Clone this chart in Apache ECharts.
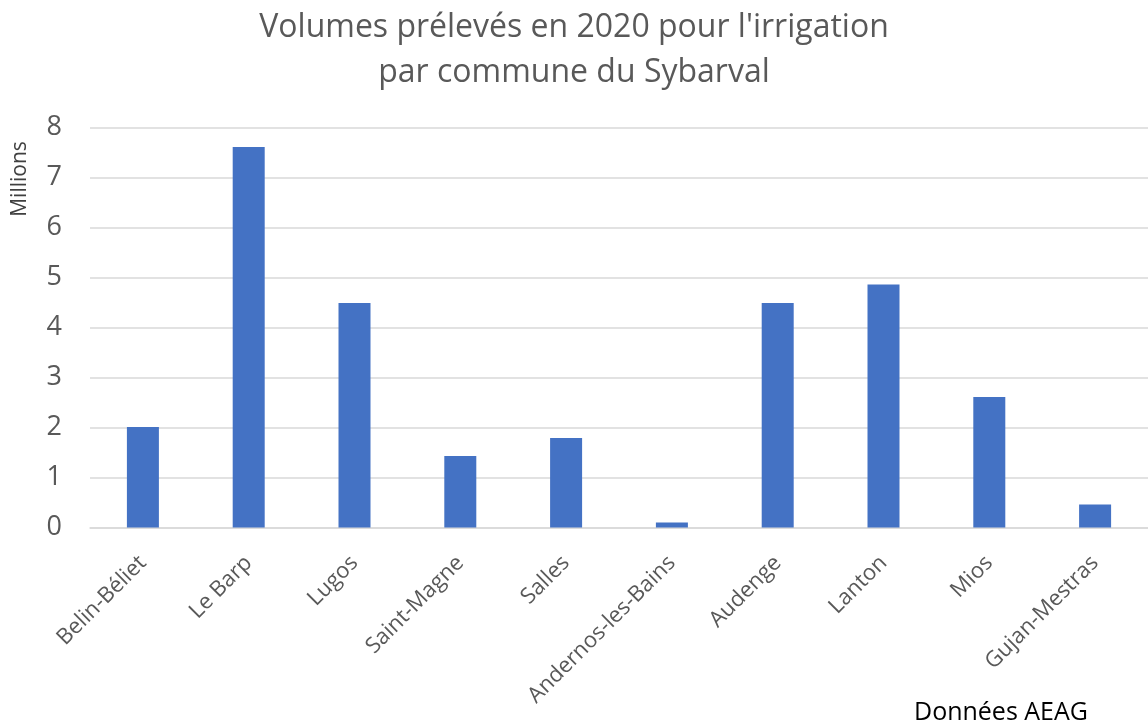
<!DOCTYPE html>
<html><head><meta charset="utf-8">
<script src="https://cdn.jsdelivr.net/npm/echarts@6/dist/echarts.min.js"></script>
<style>html,body{margin:0;padding:0;background:#fff}#c{width:1148px;height:727px}</style>
</head><body><div id="c"></div>
<script>
const titleLines = ["Volumes prélevés en 2020 pour l'irrigation", "par commune du Sybarval"];
const communes = ["Belin-Béliet","Le Barp","Lugos","Saint-Magne","Salles","Andernos-les-Bains","Audenge","Lanton","Mios","Gujan-Mestras"];
const volumesMillions = [2.01, 7.61, 4.49, 1.43, 1.79, 0.10, 4.49, 4.86, 2.61, 0.46];
const yTicks = [0,1,2,3,4,5,6,7,8];
const yAxisName = "Millions";
const sourceNote = "Données AEAG";

const chart = echarts.init(document.getElementById('c'));
chart.setOption({
  animation: false,
  title: {
    text: titleLines.join('\n'),
    left: 'center', top: 0,
    textStyle: {fontFamily: 'Open Sans', fontWeight: 'normal', fontSize: 32, color: '#595959', lineHeight: 45}
  },
  graphic: [{
    type: 'text', right: 60, bottom: 2,
    style: {text: sourceNote, fontFamily: 'Open Sans', fontSize: 25, fill: '#000'}
  }, {
    type: 'text', x: 20, y: 179, rotation: Math.PI / 2,
    style: {text: yAxisName, fontFamily: 'Open Sans', fontSize: 21, fill: '#404040', align: 'center', verticalAlign: 'middle'}
  }],
  grid: {left: 90, top: 127.5, width: 1063, height: 400, containLabel: false},
  xAxis: {
    type: 'category', data: communes,
    axisLine: {lineStyle: {color: '#d9d9d9', width: 1.5}},
    axisTick: {show: false},
    axisLabel: {rotate: 45, interval: 0, margin: 32, fontFamily: 'Open Sans', fontSize: 22, color: '#595959'}
  },
  yAxis: {
    type: 'value', min: 0, max: 8, interval: 1,
    axisLine: {show: false}, axisTick: {show: false},
    axisLabel: {fontFamily: 'Open Sans', fontSize: 27, color: '#595959', margin: 28,
      formatter: v => yTicks.includes(v) ? String(v) : ''},
    splitLine: {lineStyle: {color: '#d9d9d9', width: 1.5}}
  },
  series: [{
    type: 'bar', data: volumesMillions, barWidth: 32,
    itemStyle: {color: '#4472C4'}
  }]
});
</script></body></html>
